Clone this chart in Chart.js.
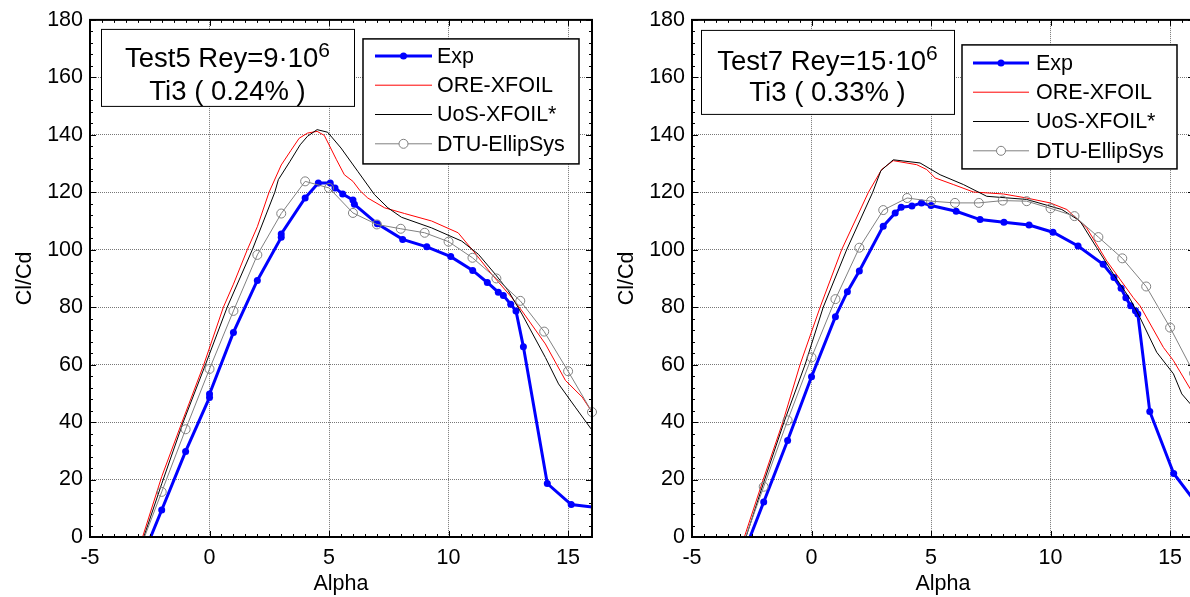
<!DOCTYPE html>
<html>
<head>
<meta charset="utf-8">
<script src="https://cdn.jsdelivr.net/npm/chart.js@4.4.1/dist/chart.umd.min.js"></script>
<style>
body { margin: 0; width: 1190px; height: 597px; overflow: hidden; background: #fff; position: relative; }
canvas { position: absolute; top: 0; }
#test5 { left: 0; }
#test7 { left: 600px; }
</style>
</head>
<body>
<canvas id="test5" width="600" height="597"></canvas>
<canvas id="test7" width="600" height="597"></canvas>
<script>
// Test5, Rey = 9e6, Ti3 (0.24 %)
const t5_exp_alpha = [-3, -2, -1, 0, 0, 1, 2, 3, 3, 4, 4.55, 5.05, 5.25, 5.57, 6, 6.06, 7.02, 8.08, 9.09, 10.09, 11.01, 11.62, 12.08, 12.29, 12.6, 12.82, 13.13, 14.13, 15.13, 16.3]
const t5_exp_clcd = [-11, 9.4, 29.8, 48.6, 49.8, 71.2, 89.3, 104.3, 105.5, 118, 123.2, 123.2, 121.5, 119.4, 117.3, 115.8, 109, 103.6, 101, 97.6, 92.8, 88.6, 85.2, 84.1, 81, 78.7, 66.2, 18.6, 11.3, 10.2]
const t5_ore_alpha = [-2.8, -2, -1.15, -0.24, 0.58, 1, 1.58, 2, 2.49, 3, 3.4, 3.75, 4.1, 4.5, 4.8, 5, 5.3, 5.64, 6, 6.3, 6.62, 7.32, 8.16, 9.29, 10.4, 11.04, 11.8, 12.65, 13.07, 14.05, 14.89, 15.59, 16]
const t5_ore_clcd = [0, 21, 40, 60, 80, 88, 100, 108, 120, 129.5, 134.5, 138.8, 140.6, 141.2, 139.8, 136.5, 131.5, 126.1, 123.8, 120.5, 118, 114.6, 112.6, 110, 105.9, 99.5, 91.5, 83.3, 78.7, 67.2, 54.5, 48.7, 43.5]
const t5_uos_alpha = [-2.75, -2, -1.1, -0.17, 0.74, 1.79, 2.73, 2.88, 3.37, 3.79, 4.1, 4.5, 4.94, 5.5, 6.2, 6.9, 7.46, 8.03, 9.29, 10.55, 11.25, 11.95, 12.5, 13.07, 14.05, 14.6, 15.3, 16]
const t5_uos_clcd = [0, 18.5, 40, 60, 80, 100, 120, 124.4, 130.8, 136.5, 139.5, 141.8, 140.9, 135.4, 127.3, 119.2, 114.6, 111.3, 107.6, 103, 98.4, 91.5, 85.7, 77.6, 62.5, 53.3, 45.2, 37.2]
const t5_dtu_alpha = [-3, -2, -1, 0, 1, 2, 3, 4, 5, 6, 7, 8, 9, 10, 11, 12, 13, 14, 15, 16]
const t5_dtu_clcd = [-6.1, 15.7, 37.5, 58.5, 78.7, 98.2, 112.6, 123.8, 121.5, 112.8, 108.8, 107.3, 105.9, 102.8, 97.2, 90, 82.2, 71.5, 57.7, 43.5]

// Test7, Rey = 15e6, Ti3 (0.33 %)
const t7_exp_alpha = [-3, -2, -1, 0, 1, 1.5, 2, 3, 3.5, 3.75, 4.2, 4.6, 5, 6.05, 7.05, 8.05, 9.1, 10.1, 11.15, 12.2, 12.65, 12.95, 13.15, 13.35, 13.55, 13.65, 14.15, 15.15, 16.2]
const t7_exp_clcd = [-9.2, 12.2, 33.6, 55.8, 76.7, 85.4, 92.6, 108.2, 112.8, 114.8, 115.2, 116.3, 115.4, 113.4, 110.5, 109.6, 108.6, 106.1, 101.3, 94.9, 90.3, 86.6, 83.3, 80.5, 78.8, 77.6, 43.7, 22.1, 10.6]
const t7_ore_alpha = [-2.81, -2.02, -1.2, -0.48, 0.36, 1.26, 2.38, 2.94, 3.42, 4.4, 4.82, 5.17, 5.93, 6.77, 8.03, 9, 9.98, 10.68, 11.51, 12.35, 13.46, 13.74, 14.72, 15.14, 15.84, 16]
const t7_ore_clcd = [0, 20, 40, 60, 80, 100, 120, 128, 131, 129.6, 127.9, 125, 122.7, 120.1, 119.4, 118, 116.3, 114, 107.6, 96.1, 83.3, 80.5, 66, 61.4, 51.6, 49.5]
const t7_uos_alpha = [-2.74, -2, -1.15, -0.27, 0.49, 1.47, 2.56, 2.9, 3.42, 4.54, 5.38, 6.35, 7.33, 9, 10.47, 11.23, 11.93, 12.63, 13.33, 13.74, 14.44, 15.14, 15.49, 15.84, 16]
const t7_uos_clcd = [0, 19, 40, 60, 80, 100, 120, 127.5, 131.3, 130.2, 126.1, 122.7, 118.6, 117.5, 114, 110, 100.7, 91.5, 82.8, 76.4, 64.3, 56.8, 49.8, 46.4, 45]
const t7_dtu_alpha = [-3, -2, -1, 0, 1, 2, 3, 4, 5, 6, 7, 8, 9, 10, 11, 12, 13, 14, 15, 16]
const t7_dtu_clcd = [-5.6, 17.5, 40.6, 62.5, 82.8, 100.7, 113.8, 118, 116.9, 116.3, 116.3, 117.1, 116.9, 114.4, 111.7, 104.4, 97, 87.2, 72.9, 57]

const font_family = "'Liberation Sans', Arial, sans-serif"
Chart.defaults.font.family = font_family
Chart.defaults.font.size = 21.5
Chart.defaults.color = "#000"

function pairs(xs, ys) {
    return xs.map((x, i) => ({x: x, y: ys[i]}))
}

function make_datasets(exp, ore, uos, dtu) {
    return [
        {
            label: "Exp", data: exp, order: 4,
            borderColor: "#0000ff", borderWidth: 3,
            pointRadius: 3.5, pointBackgroundColor: "#0000ff", pointBorderWidth: 0
        },
        {
            label: "ORE-XFOIL", data: ore, order: 3,
            borderColor: "#ff0000", borderWidth: 1, pointRadius: 0
        },
        {
            label: "UoS-XFOIL*", data: uos, order: 2,
            borderColor: "#000000", borderWidth: 1, pointRadius: 0
        },
        {
            label: "DTU-EllipSys", data: dtu, order: 1,
            borderColor: "#808080", borderWidth: 1,
            pointRadius: 4.5, pointBorderColor: "#808080", pointBorderWidth: 1,
            pointBackgroundColor: "rgba(0,0,0,0)",
            clip: {left: 6, top: 6, right: 8, bottom: 0}
        }
    ]
}

// axes box with inward ticks, axis titles, text box and legend
const frame_plugin = {
    id: "frame",
    afterDraw(chart, args, opts) {
        const ctx = chart.ctx
        const area = chart.chartArea
        const xs = chart.scales.x
        const ys = chart.scales.y
        ctx.save()

        ctx.strokeStyle = "#000"
        ctx.lineWidth = 1
        ctx.beginPath()
        for (let i = 0; i <= (xs.max - xs.min) * 2; i++) {
            const v = xs.min + i / 2
            const px = Math.round(xs.getPixelForValue(v)) + 0.5
            const len = (v % 5 == 0) ? 6 : 3
            ctx.moveTo(px, area.bottom); ctx.lineTo(px, area.bottom - len)
            ctx.moveTo(px, area.top); ctx.lineTo(px, area.top + len)
        }
        for (let i = 0; i <= (ys.max - ys.min) / 4; i++) {
            const v = ys.min + i * 4
            const py = Math.round(ys.getPixelForValue(v)) + 0.5
            const len = (v % 20 == 0) ? 6 : 3
            ctx.moveTo(area.left, py); ctx.lineTo(area.left + len, py)
            ctx.moveTo(area.right, py); ctx.lineTo(area.right - len, py)
        }
        ctx.stroke()
        ctx.lineWidth = 2
        ctx.strokeRect(area.left, area.top, area.right - area.left, area.bottom - area.top)

        // axis titles
        ctx.fillStyle = "#000"
        ctx.font = "21.5px " + font_family
        ctx.textAlign = "center"
        ctx.textBaseline = "alphabetic"
        ctx.fillText("Alpha", (area.left + area.right) / 2, 590)
        ctx.save()
        ctx.translate(area.left - 59, (area.top + area.bottom) / 2)
        ctx.rotate(-Math.PI / 2)
        ctx.fillText("Cl/Cd", 0, 0)
        ctx.restore()

        // text box
        const note = opts.note
        const bx = area.left + note.x, by = area.top + note.y
        ctx.fillStyle = "#fff"
        ctx.fillRect(bx, by, note.w, note.h)
        ctx.lineWidth = 1
        ctx.strokeRect(bx + 0.5, by + 0.5, note.w, note.h)
        ctx.fillStyle = "#000"
        const cx = bx + note.w / 2
        ctx.font = "27.5px " + font_family
        const w_main = ctx.measureText(note.line1).width
        ctx.font = "21px " + font_family
        const w_sup = ctx.measureText(note.sup).width
        ctx.textAlign = "left"
        ctx.font = "27.5px " + font_family
        ctx.fillText(note.line1, cx - (w_main + w_sup) / 2, area.top + note.base1)
        ctx.font = "21px " + font_family
        ctx.fillText(note.sup, cx - (w_main + w_sup) / 2 + w_main, area.top + note.base1 - 10)
        ctx.font = "27.5px " + font_family
        ctx.textAlign = "center"
        ctx.fillText(note.line2, cx, area.top + note.base2)

        // legend
        const lg = opts.legend
        const lx = area.left + lg.x, ly = area.top + lg.y
        ctx.fillStyle = "#fff"
        ctx.fillRect(lx, ly, lg.w, lg.h)
        ctx.lineWidth = 1.5
        ctx.strokeStyle = "#000"
        ctx.strokeRect(lx, ly, lg.w, lg.h)
        ctx.font = "21.5px " + font_family
        ctx.textAlign = "left"
        ctx.textBaseline = "middle"
        const order = [0, 1, 2, 3]
        order.forEach((di, row) => {
            const ds = chart.data.datasets[di]
            const ry = area.top + lg.row0 + row * lg.step
            const x0 = area.left + lg.s0, x1 = area.left + lg.s1
            ctx.strokeStyle = ds.borderColor
            ctx.lineWidth = ds.borderWidth
            ctx.beginPath()
            ctx.moveTo(x0, ry); ctx.lineTo(x1, ry)
            ctx.stroke()
            if (ds.pointRadius > 0) {
                ctx.beginPath()
                ctx.arc((x0 + x1) / 2, ry, ds.pointRadius, 0, Math.PI * 2)
                if (ds.pointBorderWidth > 0) {
                    ctx.fillStyle = "#fff"
                    ctx.fill()
                    ctx.lineWidth = ds.pointBorderWidth
                    ctx.strokeStyle = ds.pointBorderColor
                    ctx.stroke()
                } else {
                    ctx.fillStyle = ds.pointBackgroundColor
                    ctx.fill()
                }
            }
            ctx.fillStyle = "#000"
            ctx.fillText(ds.label, area.left + lg.tx, ry + 1)
        })
        ctx.restore()
    }
}

function make_chart(canvas_id, datasets, y_width, pad_right, note, legend) {
    return new Chart(document.getElementById(canvas_id), {
        type: "line",
        data: {datasets: datasets},
        plugins: [frame_plugin],
        options: {
            responsive: false,
            animation: false,
            events: [],
            layout: {padding: {left: 0, right: pad_right, top: 18, bottom: 0}},
            elements: {line: {tension: 0}},
            plugins: {
                legend: {display: false},
                tooltip: {enabled: false},
                frame: {note: note, legend: legend}
            },
            scales: {
                x: {
                    type: "linear", min: -5, max: 16,
                    afterFit: (s) => { s.height = 60 },
                    grid: {color: "#777777", lineWidth: 1, drawTicks: false},
                    border: {display: false, dash: [1, 1]},
                    ticks: {
                        stepSize: 5, includeBounds: false, autoSkip: false, maxRotation: 0, padding: 8,
                        callback: (v) => (v % 5 == 0) ? String(v) : ""
                    }
                },
                y: {
                    min: 0, max: 180,
                    afterFit: (s) => { s.width = y_width },
                    grid: {color: "#777777", lineWidth: 1, drawTicks: false},
                    border: {display: false, dash: [1, 1]},
                    ticks: {stepSize: 20, padding: 7}
                }
            }
        }
    })
}

make_chart("test5",
    make_datasets(pairs(t5_exp_alpha, t5_exp_clcd), pairs(t5_ore_alpha, t5_ore_clcd),
                  pairs(t5_uos_alpha, t5_uos_clcd), pairs(t5_dtu_alpha, t5_dtu_clcd)),
    90, 8,
    {x: 11, y: 9, w: 253, h: 77, base1: 47, base2: 80, line1: "Test5 Rey=9\u00b710", sup: "6", line2: "Ti3 ( 0.24% )"},
    {x: 273, y: 19, w: 216, h: 125, row0: 36, step: 29.3, s0: 285, s1: 342, tx: 347})

make_chart("test7",
    make_datasets(pairs(t7_exp_alpha, t7_exp_clcd), pairs(t7_ore_alpha, t7_ore_clcd),
                  pairs(t7_uos_alpha, t7_uos_clcd), pairs(t7_dtu_alpha, t7_dtu_clcd)),
    92, 6,
    {x: 9, y: 10, w: 253, h: 84, base1: 50, base2: 81, line1: "Test7 Rey=15\u00b710", sup: "6", line2: "Ti3 ( 0.33% )"},
    {x: 270, y: 25, w: 215, h: 124, row0: 43, step: 29.3, s0: 281, s1: 337, tx: 344})
</script>
</body>
</html>
